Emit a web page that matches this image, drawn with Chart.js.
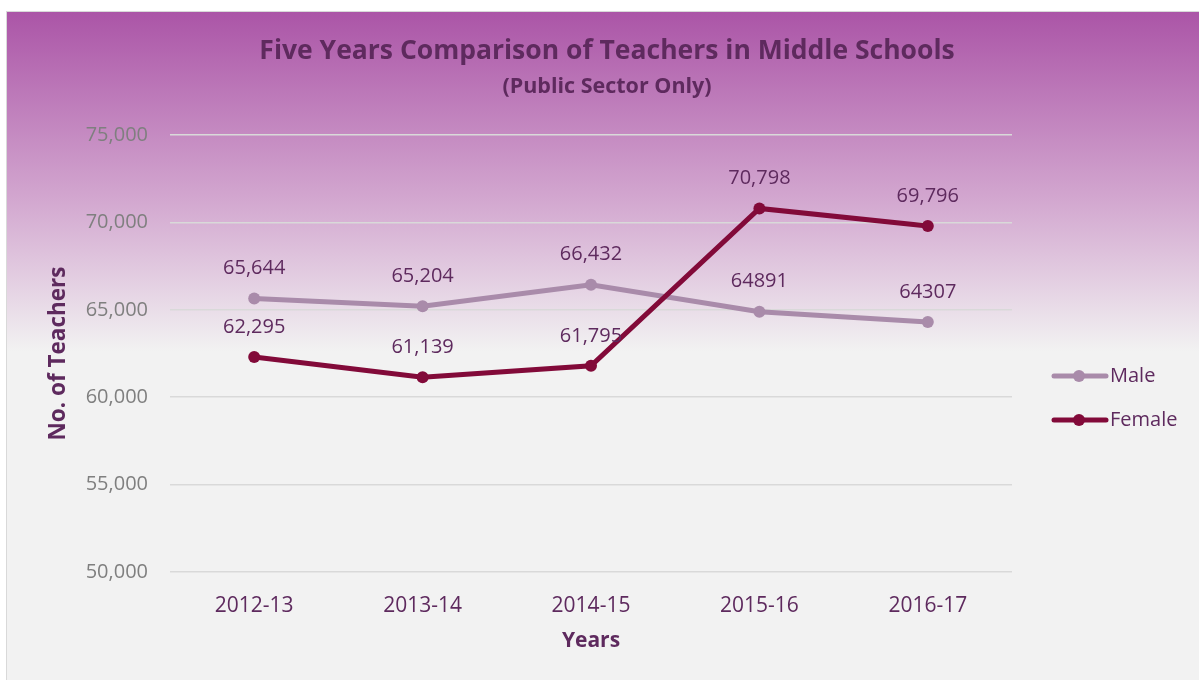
<!DOCTYPE html>
<html>
<head>
<meta charset="utf-8">
<script src="https://cdn.jsdelivr.net/npm/chart.js@4"></script>
<style>
  html, body { margin: 0; padding: 0; background: #ffffff; width: 1199px; height: 680px; overflow: hidden; }
  #frame { position: absolute; left: 6px; top: 11px; width: 1200px; height: 680px; border: 1px solid #D9D9D9;
    background: linear-gradient(to bottom, #AB55A7 0px, #D3A8D0 190px, #F2F2F2 340px, #F2F2F2 100%); }
  #c { position: absolute; left: 0; top: 0; }
</style>
</head>
<body>
<div id="frame"></div>
<canvas id="c" width="1199" height="680"></canvas>
<script>
const categories = ["2012-13", "2013-14", "2014-15", "2015-16", "2016-17"];
const maleValues = [65644, 65204, 66432, 64891, 64307];
const femaleValues = [62295, 61139, 61795, 70798, 69796];
const maleLabels = ["65,644", "65,204", "66,432", "64891", "64307"];
const femaleLabels = ["62,295", "61,139", "61,795", "70,798", "69,796"];
const yTicks = [50000, 55000, 60000, 65000, 70000, 75000];

const FONT = "'Open Sans', sans-serif";
const TEXT = "#5E2A5E";
const MALE = "#A98BAA";
const FEMALE = "#820A39";

const labelPlugin = {
  id: 'labels',
  afterDatasetsDraw(chart) {
    const ctx = chart.ctx;
    ctx.save();
    ctx.font = "20px " + FONT;
    ctx.fillStyle = TEXT;
    ctx.textAlign = "center";
    ctx.textBaseline = "middle";
    const sets = [maleLabels, femaleLabels];
    chart.data.datasets.forEach((ds, i) => {
      const meta = chart.getDatasetMeta(i);
      meta.data.forEach((pt, j) => {
        ctx.fillText(sets[i][j], pt.x, pt.y - 30);
      });
    });
    ctx.restore();
  }
};

const titlePlugin = {
  id: 'titles',
  afterDraw(chart) {
    const ctx = chart.ctx;
    ctx.save();
    ctx.fillStyle = TEXT;
    ctx.textAlign = "center";
    ctx.textBaseline = "middle";
    ctx.font = "bold 26.5px " + FONT;
    ctx.fillText("Five Years Comparison of Teachers in Middle Schools", 607, 51);
    ctx.font = "bold 21.5px " + FONT;
    ctx.fillText("(Public Sector Only)", 607, 87);
    // legend
    const items = [["Male", MALE, 376], ["Female", FEMALE, 420]];
    items.forEach(([name, col, y]) => {
      ctx.strokeStyle = col;
      ctx.lineWidth = 5;
      ctx.lineCap = "round";
      ctx.beginPath(); ctx.moveTo(1054, y); ctx.lineTo(1106, y); ctx.stroke();
      ctx.fillStyle = col;
      ctx.beginPath(); ctx.arc(1079, y, 6, 0, Math.PI * 2); ctx.fill();
      ctx.fillStyle = TEXT;
      ctx.textAlign = "left";
      ctx.font = "20px " + FONT;
      ctx.fillText(name, 1110, y);
    });
    ctx.restore();
  }
};

new Chart(document.getElementById("c"), {
  type: "line",
  data: {
    labels: categories,
    datasets: [
      { label: "Male", data: maleValues, borderColor: MALE, backgroundColor: MALE, borderWidth: 5,
        pointRadius: 6, pointHoverRadius: 6, pointBackgroundColor: MALE, pointBorderWidth: 0, order: 1, tension: 0 },
      { label: "Female", data: femaleValues, borderColor: FEMALE, backgroundColor: FEMALE, borderWidth: 5,
        pointRadius: 6, pointHoverRadius: 6, pointBackgroundColor: FEMALE, pointBorderWidth: 0, order: 0, tension: 0 }
    ]
  },
  options: {
    responsive: false,
    animation: false,
    events: [],
    layout: { padding: { left: 6, right: 187, top: 135, bottom: 0 } },
    plugins: { legend: { display: false }, title: { display: false }, tooltip: { enabled: false } },
    scales: {
      x: {
        offset: true,
        grid: { display: false, drawTicks: false },
        border: { display: false },
        ticks: { color: TEXT, font: { family: FONT, size: 21 }, padding: 21, maxRotation: 0 },
        title: { display: true, text: "Years", color: TEXT, font: { family: FONT, size: 21, weight: "bold" }, padding: { top: 26, bottom: 26 } },
        afterFit(s) { s.height = 108; }
      },
      y: {
        min: 50000, max: 75000,
        afterBuildTicks(s) { s.ticks = yTicks.map(v => ({ value: v })); },
        grid: { color: "#D9D9D9", lineWidth: 1.5, drawTicks: false },
        border: { display: false },
        ticks: { color: "#7F7F7F", font: { family: FONT, size: 20 }, padding: 22,
          callback: v => v.toLocaleString("en-US") },
        title: { display: true, text: "No. of Teachers", color: TEXT, font: { family: FONT, size: 22.5, weight: "bold" }, padding: { top: 39, bottom: 39 } },
        afterFit(s) { s.width = 164; }
      }
    }
  },
  plugins: [labelPlugin, titlePlugin]
});
</script>
</body>
</html>
